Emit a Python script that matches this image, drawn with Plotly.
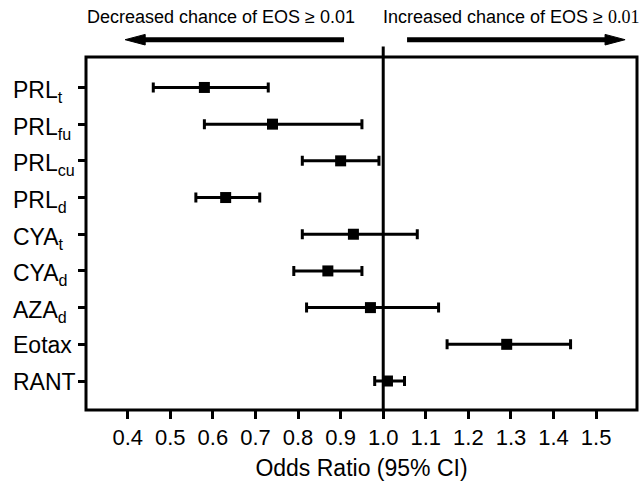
import plotly.graph_objects as go

# ---- data ----
labels = ["PRL<sub>t</sub>", "PRL<sub>fu</sub>", "PRL<sub>cu</sub>", "PRL<sub>d</sub>",
          "CYA<sub>t</sub>", "CYA<sub>d</sub>", "AZA<sub>d</sub>", "Eotax", "RANT"]
odds = [0.58, 0.74, 0.90, 0.63, 0.93, 0.87, 0.97, 1.29, 1.01]
lower = [0.46, 0.58, 0.81, 0.56, 0.81, 0.79, 0.82, 1.15, 0.98]
upper = [0.73, 0.95, 0.99, 0.71, 1.08, 0.95, 1.13, 1.44, 1.05]
xtick_vals = [0.4, 0.5, 0.6, 0.7, 0.8, 0.9, 1.0, 1.1, 1.2, 1.3, 1.4, 1.5]
xtick_text = ["0.4", "0.5", "0.6", "0.7", "0.8", "0.9", "1.0", "1.1", "1.2", "1.3", "1.4", "1.5"]
x_title = "Odds Ratio (95% CI)"
left_note = "Decreased chance of EOS ≥ 0.01"
right_note = 'Increased chance of EOS ≥ <span style="font-family:Liberation Serif, Times New Roman, serif">0.01</span>'

rows = list(range(len(labels)))
FONT = "Arial, Liberation Sans, Helvetica, sans-serif"

fig = go.Figure()
fig.add_trace(go.Scatter(
    x=odds, y=rows, mode="markers",
    marker=dict(symbol="square", size=11, color="black"),
    error_x=dict(type="data", symmetric=False,
                 array=[u - o for u, o in zip(upper, odds)],
                 arrayminus=[o - l for o, l in zip(odds, lower)],
                 color="black", thickness=3, width=5),
    showlegend=False, hoverinfo="skip",
))

XR = [0.302, 1.596]
fig.update_layout(
    width=643, height=483,
    margin=dict(l=86, r=6, t=57, b=68),
    paper_bgcolor="white", plot_bgcolor="white",
    font=dict(family=FONT, color="black", size=22),
    xaxis=dict(range=XR, tickvals=xtick_vals, ticktext=xtick_text,
               showgrid=False, zeroline=False, showline=False,
               ticks="outside", ticklen=8, tickwidth=3, tickcolor="black",
               tickfont=dict(size=22), title=dict(text=x_title, font=dict(size=23), standoff=10)),
    yaxis=dict(range=[8.79, -0.83], tickvals=rows, showticklabels=False,
               showgrid=False, zeroline=False, showline=False,
               ticks="outside", ticklen=7, tickwidth=3, tickcolor="black"),
)

# frame
fig.add_shape(type="rect", xref="paper", yref="paper", x0=0, x1=1, y0=0, y1=1,
              line=dict(color="black", width=3), fillcolor="rgba(0,0,0,0)", layer="above")
# reference line at OR = 1
fig.add_shape(type="line", xref="x", yref="paper", x0=1.0, x1=1.0, y0=0, y1=1.03,
              line=dict(color="black", width=3))

# direction arrows
arrow_y = 1.049
head_len = 0.047
head_half = 0.015
def add_arrow(tail, tip):
    d = 1 if tip > tail else -1
    base = tip - d * head_len
    fig.add_shape(type="line", xref="x", yref="paper", x0=tail, x1=base + d * 0.005,
                  y0=arrow_y, y1=arrow_y, line=dict(color="black", width=5))
    fig.add_shape(type="path", xref="x", yref="paper",
                  path=f"M {tip},{arrow_y} L {base},{arrow_y + head_half} L {base},{arrow_y - head_half} Z",
                  fillcolor="black", line=dict(color="black", width=1))

add_arrow(0.908, 0.394)
add_arrow(1.056, 1.568)

fig.add_annotation(text=left_note, xref="x", yref="paper", x=0.938, y=1.112,
                   xanchor="right", yanchor="middle", showarrow=False, font=dict(size=18))
fig.add_annotation(text=right_note, xref="x", yref="paper", x=0.995, y=1.112,
                   xanchor="left", yanchor="middle", showarrow=False, font=dict(size=18))

# row labels (left aligned)
for r, lab in zip(rows, labels):
    fig.add_annotation(text=lab, xref="paper", yref="y", x=-0.137, y=r,
                       xanchor="left", yanchor="middle", showarrow=False,
                       font=dict(size=23), yshift=(-4 if "<sub>" in lab else -1))

fig.write_html("out.html", config={"displayModeBar": False},
               post_script="document.body.style.margin='0';document.body.style.padding='0';")
